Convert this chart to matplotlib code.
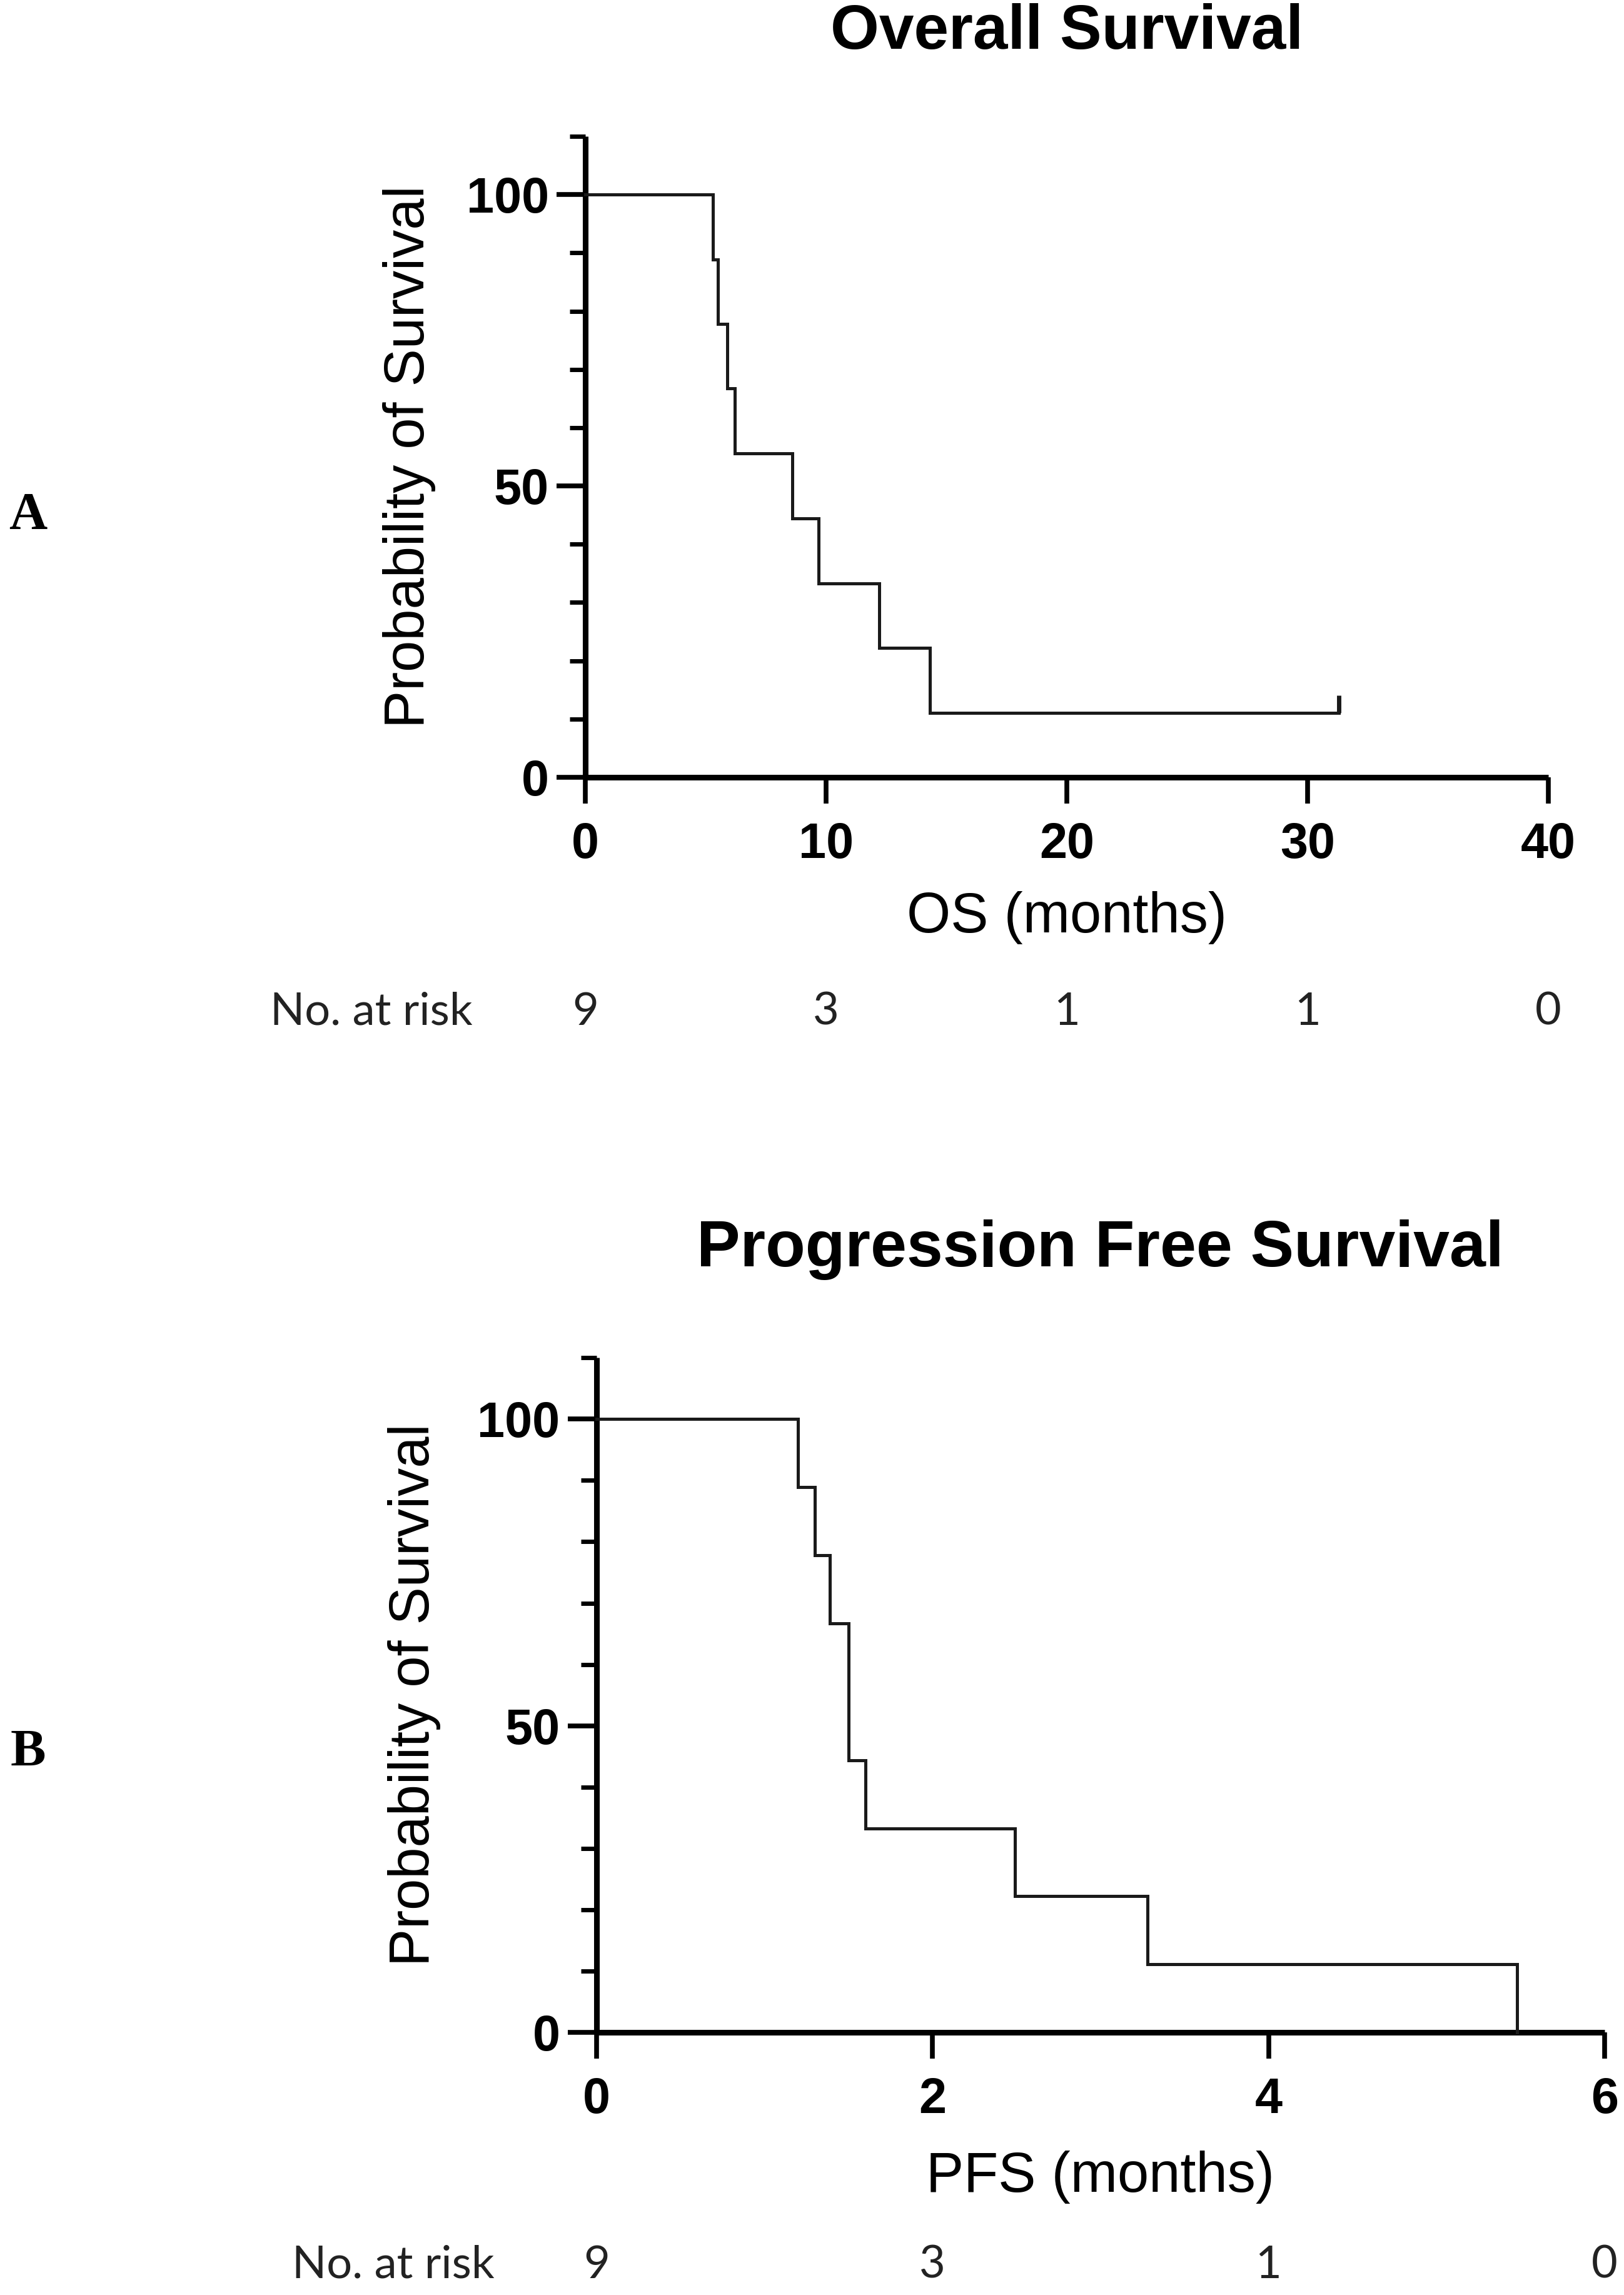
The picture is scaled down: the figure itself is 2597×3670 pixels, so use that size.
import numpy as np
import matplotlib
matplotlib.use("Agg")
import matplotlib.pyplot as plt
from matplotlib.ticker import MultipleLocator, FixedLocator
from matplotlib.transforms import blended_transform_factory
from matplotlib.path import Path

# ---------------------------------------------------------------------------
#  Data (Kaplan-Meier steps, survival in %)
# ---------------------------------------------------------------------------
os_time = [0, 5.3, 5.5, 5.9, 6.2, 8.6, 9.7, 12.2, 14.3, 31.3]
os_surv = [100, 88.9, 77.8, 66.7, 55.6, 44.4, 33.3, 22.2, 11.1, 11.1]
os_censor_t = [31.3]
os_censor_s = [11.1]
os_risk_t = [0, 10, 20, 30, 40]
os_risk_n = [9, 3, 1, 1, 0]

pfs_time = [0, 1.2, 1.3, 1.39, 1.5, 1.6, 2.49, 3.28, 5.48]
pfs_surv = [100, 88.9, 77.8, 66.7, 44.4, 33.3, 22.2, 11.1, 0]
pfs_risk_t = [0, 2, 4, 6]
pfs_risk_n = [9, 3, 1, 0]

SANS = "Liberation Sans"
RISK = "Lato"
SERIF = "Liberation Serif"

# censor tick: short vertical mark pointing upwards from the curve
up_tick = Path([(0, 0), (0, 1)], [Path.MOVETO, Path.LINETO])


def km_axes(fig, rect, t, s, xmax, xstep, title, xlabel, title_fs,
            risk_t, risk_n, ylab_x, xlab_y, title_y, risk_y, risk_lab_x):
    ax = fig.add_axes(rect)
    ax.step(t, s, where="post", color="#1a1a1a", lw=3.6, solid_joinstyle="miter",
            clip_on=False, zorder=3)
    ax.set_xlim(0, xmax)
    ax.set_ylim(0, 110)
    for side in ("top", "right"):
        ax.spines[side].set_visible(False)
    for side in ("left", "bottom"):
        ax.spines[side].set_linewidth(6.5)
        ax.spines[side].set_capstyle("butt")
    ax.xaxis.set_major_locator(MultipleLocator(xstep))
    ax.yaxis.set_major_locator(FixedLocator([0, 50, 100]))
    ax.yaxis.set_minor_locator(FixedLocator([10, 20, 30, 40, 60, 70, 80, 90, 110]))
    ax.tick_params(axis="y", which="major", length=33, width=5.5, pad=9,
                   labelsize=57)
    ax.tick_params(axis="y", which="minor", length=18, width=5)
    ax.tick_params(axis="x", which="major", length=30, width=5.5, pad=21,
                   labelsize=57)
    for lab in ax.get_xticklabels() + ax.get_yticklabels():
        lab.set_fontfamily(SANS)
        lab.set_fontweight("bold")

    ax.set_ylabel("Probability of Survival", fontsize=65, family=SANS,
                  va="center")
    ax.yaxis.set_label_coords(ylab_x, 0.5)
    ax.set_xlabel(xlabel, fontsize=65, family=SANS, va="center")
    ax.xaxis.set_label_coords(0.5, xlab_y)
    ax.text(0.5, title_y, title, transform=ax.transAxes, ha="center",
            va="center", fontsize=title_fs, fontweight="bold", family=SANS)

    trans = blended_transform_factory(ax.transData, ax.transAxes)
    ax.text(risk_lab_x, risk_y, "No. at risk", transform=ax.transAxes,
            ha="left", va="center", fontsize=52, family=RISK, color="#222222")
    for x, n in zip(risk_t, risk_n):
        ax.text(x, risk_y, str(n), transform=trans, ha="center", va="center",
                fontsize=52, family=RISK, color="#222222")
    return ax


fig = plt.figure(figsize=(25.97, 36.70), dpi=100)

ax_a = km_axes(fig, [0.3604, 0.6613, 0.5930, 0.2793], os_time, os_surv, 40, 10,
               "Overall Survival", "OS (months)", 72, os_risk_t, os_risk_n,
               ylab_x=-0.183, xlab_y=-0.219, title_y=1.162, risk_y=-0.366,
               risk_lab_x=-0.327)
ax_a.plot(os_censor_t, os_censor_s, ls="none", marker=up_tick, ms=40,
          mew=5, color="#1a1a1a", clip_on=False, zorder=4)

ax_b = km_axes(fig, [0.3673, 0.1144, 0.6207, 0.2940], pfs_time, pfs_surv, 6, 2,
               "Progression Free Survival", "PFS (months)", 75, pfs_risk_t,
               pfs_risk_n, ylab_x=-0.181, xlab_y=-0.214, title_y=1.160,
               risk_y=-0.345, risk_lab_x=-0.302)

fig.text(0.0173, 0.7752, "A", ha="center", va="center", fontsize=61,
         fontweight="bold", family=SERIF)
fig.text(0.0173, 0.2362, "B", ha="center", va="center", fontsize=61,
         fontweight="bold", family=SERIF)

fig.savefig("out.png", dpi=100, facecolor="white")
